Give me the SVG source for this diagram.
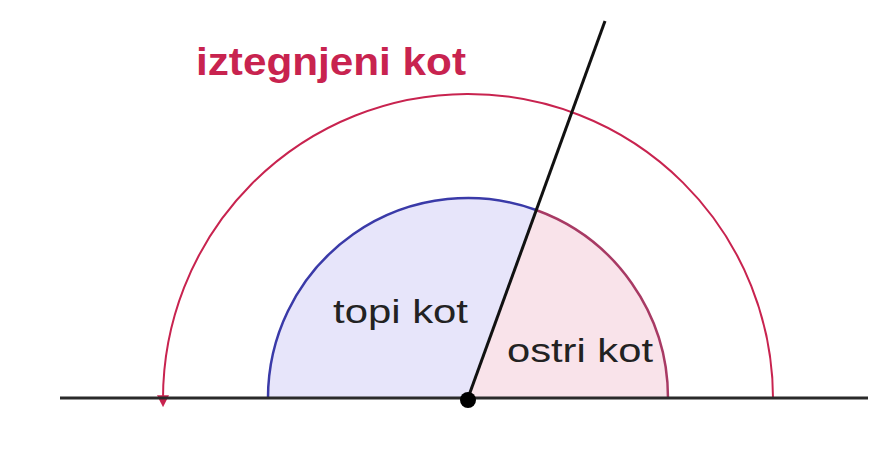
<svg xmlns="http://www.w3.org/2000/svg" width="892" height="449" viewBox="0 0 892 449">
  <defs>
    <marker id="arrow" viewBox="0 0 10 10" refX="4" refY="5" markerWidth="12" markerHeight="12" markerUnits="userSpaceOnUse" orient="auto">
      <path d="M0,0 L10,5 L0,10 Z" fill="#c8234f"/>
    </marker>
  </defs>
  <style>
    .lbl { font-family: "Liberation Sans", Arial, sans-serif; fill: #222; }
    .title { font-family: "Liberation Sans", Arial, sans-serif; font-weight: bold; fill: #c8234f; }
  </style>
  <rect width="892" height="449" fill="#ffffff"/>
  <g id="obtuse-sector">
    <path d="M468,398 L268,398 A200,200 0 0 1 536.1,210 Z" fill="#e7e5fa"/>
    <path d="M268,398 A200,200 0 0 1 536.1,210" fill="none" stroke="#3a3aa8" stroke-width="2.5"/>
  </g>
  <g id="acute-sector">
    <path d="M468,398 L536.1,210 A200,200 0 0 1 668,398 Z" fill="#f9e3ea"/>
    <path d="M536.1,210 A200,200 0 0 1 668,398" fill="none" stroke="#a83a64" stroke-width="2.5"/>
  </g>
  <g id="reflex-arc">
    <path d="M773,398 A305,305 0 0 0 163,400" fill="none" stroke="#c8234f" stroke-width="2" marker-end="url(#arrow)"/>
  </g>
  <g id="connectors">
    <line x1="60" y1="398" x2="868" y2="398" stroke="#2a2a2a" stroke-width="3"/>
    <line x1="468" y1="398" x2="605" y2="21" stroke="#111" stroke-width="3"/>
  </g>
  <g id="vertex">
    <circle cx="468" cy="400" r="8" fill="#000"/>
  </g>
  <g id="labels">
    <text class="title" x="196" y="75" font-size="38" textLength="270" lengthAdjust="spacingAndGlyphs">iztegnjeni kot</text>
    <text class="lbl" x="333" y="323" font-size="34" textLength="135" lengthAdjust="spacingAndGlyphs">topi kot</text>
    <text class="lbl" x="507" y="362" font-size="33" textLength="146" lengthAdjust="spacingAndGlyphs">ostri kot</text>
  </g>
</svg>
